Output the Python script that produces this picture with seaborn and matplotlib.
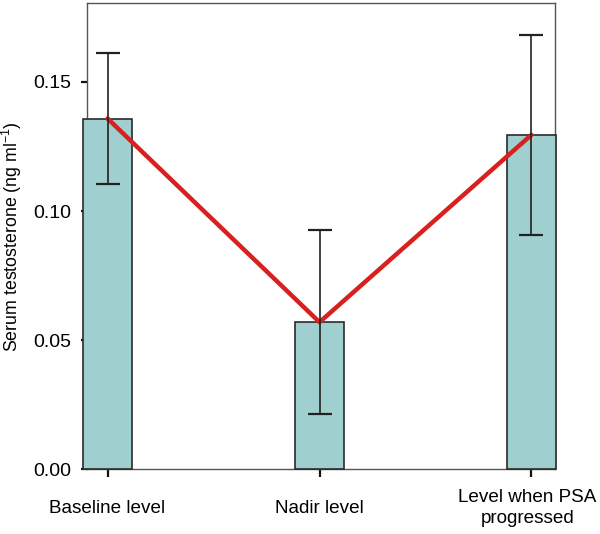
import numpy as np
import pandas as pd
import seaborn as sns
import matplotlib
matplotlib.use("Agg")
import matplotlib.pyplot as plt
import matplotlib.transforms as mtransforms

# values
levels = ["Baseline level", "Nadir level", "Level when PSA\nprogressed"]
mean_t = [0.1358, 0.0570, 0.1295]
err_low = [0.0252, 0.0356, 0.0388]
err_high = [0.0254, 0.0357, 0.0386]
yticks = [0.00, 0.05, 0.10, 0.15]

sns.set_style("white")
plt.rcParams["font.family"] = ["Liberation Sans", "DejaVu Sans"]
plt.rcParams["mathtext.fontset"] = "custom"
plt.rcParams["mathtext.rm"] = "Liberation Sans"
plt.rcParams["mathtext.it"] = "Liberation Sans"
plt.rcParams["text.color"] = "black"
plt.rcParams["axes.labelcolor"] = "black"
plt.rcParams["xtick.color"] = "black"
plt.rcParams["ytick.color"] = "black"

fig = plt.figure(figsize=(6, 5.34), dpi=100)
ax = fig.add_axes([0.145, 0.1208, 0.78, 0.8736])

df = pd.DataFrame({"level": levels, "t": mean_t})
sns.barplot(data=df, x="level", y="t", color="#9fd0cf", saturation=1,
            width=0.231, edgecolor="#2a2a2a", linewidth=1.2,
            errorbar=None, ax=ax)
for p in ax.patches:
    p.set_zorder(3)
    p.set_clip_on(False)

# red line joining the means
ax.plot(range(len(levels)), mean_t, color="#d8201e", lw=3.2,
        solid_capstyle="round", zorder=4, clip_on=False)

ax.errorbar(range(len(levels)), mean_t, yerr=[err_low, err_high],
            fmt="none", ecolor="#222222", elinewidth=1.2,
            capsize=8.3, capthick=1.6, zorder=5, clip_on=False)

ax.set_xlim(-0.097, 2.111)
ax.set_ylim(0, 0.1805)
ax.set_yticks(yticks)
ax.set_yticklabels([f"{v:.2f}" for v in yticks])
ax.set_xlabel("")
ax.set_ylabel(r"Serum testosterone (ng ml$^{-1}$)", fontsize=12.8, labelpad=7)

for s in ax.spines.values():
    s.set_visible(True)
    s.set_color("#555555")
    s.set_linewidth(1.0)

ax.tick_params(axis="y", direction="out", length=4.5, width=1.6,
               color="#111111", labelsize=14, pad=6.5, left=True)
ax.tick_params(axis="x", direction="out", length=6, width=1.6,
               color="#111111", labelsize=13.6, pad=22, bottom=True)
for lab in ax.get_xticklabels():
    lab.set_va("center")
    lab.set_ha("center")
    lab.set_multialignment("center")
    lab.set_linespacing(1.3)
# nudge the long right-hand label a little inwards
last = ax.get_xticklabels()[-1]
last.set_transform(last.get_transform()
                   + mtransforms.ScaledTranslation(-3 / 72, 0, fig.dpi_scale_trans))

fig.savefig("out.png", dpi=100)
